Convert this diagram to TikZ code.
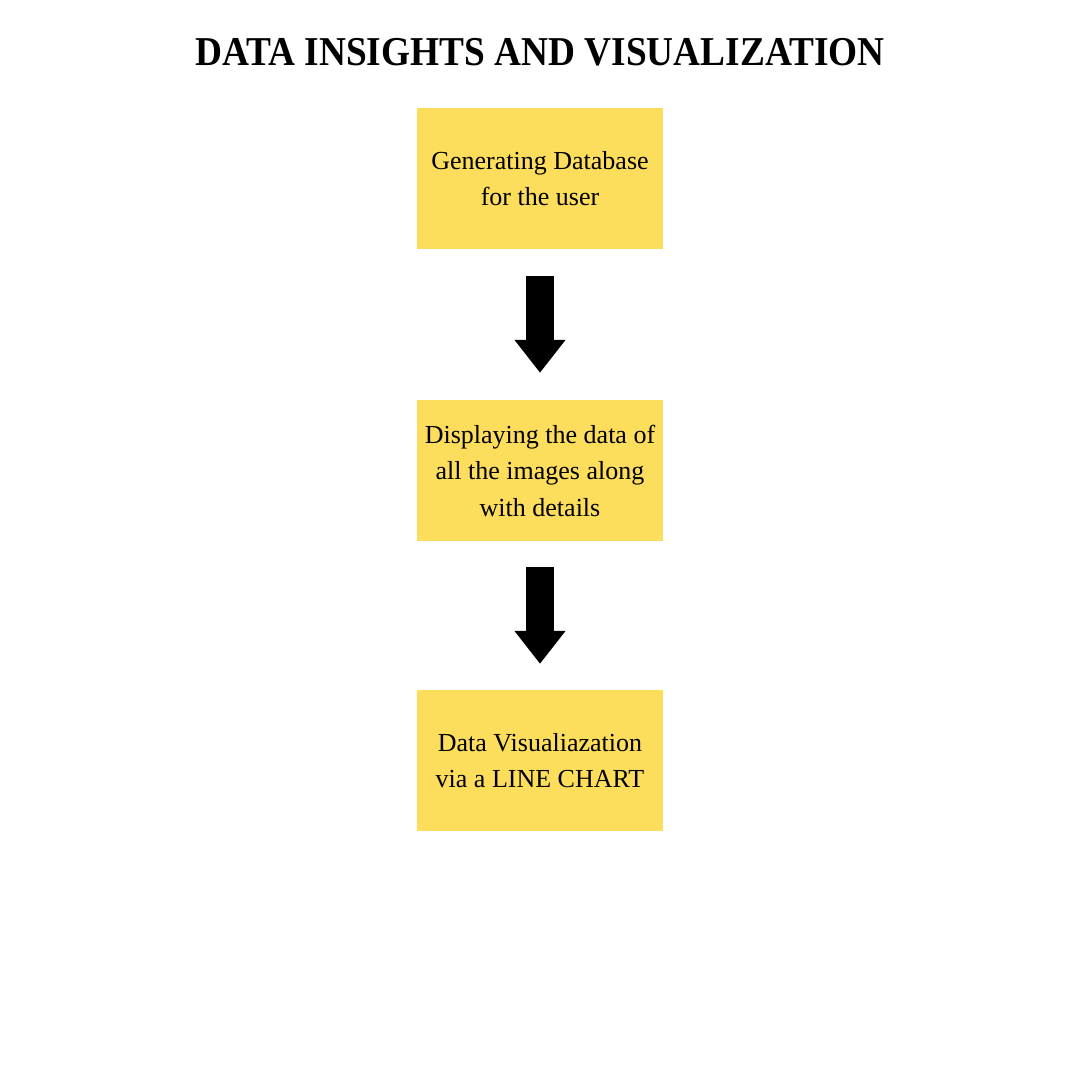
\documentclass[tikz,border=0pt]{standalone}
\usepackage{fontspec}
\setmainfont{Liberation Serif}
\usetikzlibrary{arrows.meta}
\definecolor{stickyyellow}{HTML}{FDDD5C}
\begin{document}
\begin{tikzpicture}[x=1pt,y=-1pt,
  stepbox/.style={fill=stickyyellow, minimum width=246pt, minimum height=141pt,
    inner sep=0pt, align=center, font=\fontsize{26}{36.5}\selectfont},
  flowarrow/.style={line width=28pt, -{Triangle[width=49pt,length=33pt]}}]
  % page
  \fill[white] (0,0) rectangle (1080,1080);
  \useasboundingbox (0,0) rectangle (1080,1080);
  % heading
  \node[font=\bfseries\fontsize{41}{41}\selectfont, inner sep=0pt] (title) at (540,52)
    {\scalebox{0.91}[1]{DATA INSIGHTS AND VISUALIZATION}};
  % process steps
  \node[stepbox] (gen)  at (540,178.5) {Generating Database\\for the user};
  \node[stepbox] (disp) at (540,470.5) {Displaying the data of\\all the images along\\with details};
  \node[stepbox] (viz)  at (540,760.5) {Data Visualiazation\\via a LINE CHART};
  % flow arrows
  \draw[flowarrow] ([yshift=-27pt]gen.south) -- ([yshift=27pt]disp.north);
  \draw[flowarrow] ([yshift=-26pt]disp.south) -- ([yshift=26pt]viz.north);
\end{tikzpicture}
\end{document}
